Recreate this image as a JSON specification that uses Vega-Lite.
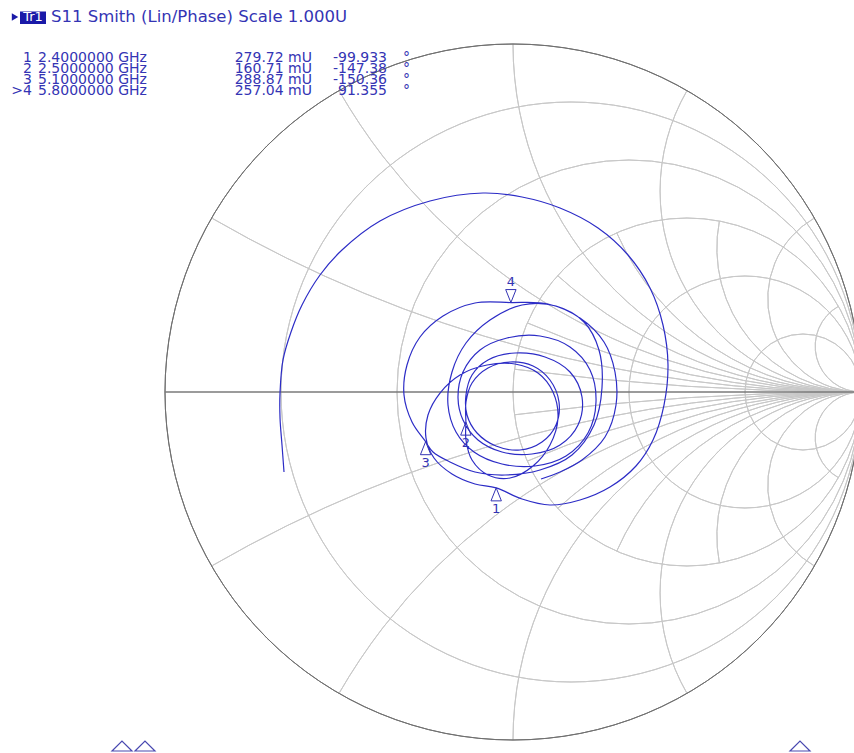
{
  "$schema": "https://vega.github.io/schema/vega-lite/v6.json",
  "width": 689,
  "height": 696,
  "autosize": {"type": "none"},
  "padding": {"left": 165, "top": 44, "right": 0, "bottom": 13},
  "background": "white",
  "config": {
    "view": {"stroke": null},
    "text": {"font": "DejaVu Sans", "fontSize": 14, "color": "#3434b4"}
  },
  "datasets": {
    "rcirc": [
      {"r": 0.2, "cx": 0.166667, "cy": 0, "rad": 0.833333, "a0": 0, "a1": 360},
      {"r": 0.5, "cx": 0.333333, "cy": 0, "rad": 0.666667, "a0": 0, "a1": 360},
      {"r": 1, "cx": 0.5, "cy": 0, "rad": 0.5, "a0": 0, "a1": 360},
      {"r": 2, "cx": 0.666667, "cy": 0, "rad": 0.333333, "a0": 0, "a1": 360},
      {"r": 5, "cx": 0.833333, "cy": 0, "rad": 0.166667, "a0": 0, "a1": 360}
    ],
    "xarc": [
      {"x": 3.732, "cx": 1, "cy": 0.267949, "rad": 0.267949, "a0": 180, "a1": 330},
      {"x": 1.732, "cx": 1, "cy": 0.57735, "rad": 0.57735, "a0": 180, "a1": 300},
      {"x": 1, "cx": 1, "cy": 1, "rad": 1, "a0": 180, "a1": 270},
      {"x": 0.577, "cx": 1, "cy": 1.732051, "rad": 1.732051, "a0": 180, "a1": 240},
      {"x": 0.268, "cx": 1, "cy": 3.732051, "rad": 3.732051, "a0": 180, "a1": 210},
      {"x": -3.732, "cx": 1, "cy": -0.267949, "rad": 0.267949, "a0": 210, "a1": 360},
      {"x": -1.732, "cx": 1, "cy": -0.57735, "rad": 0.57735, "a0": 240, "a1": 360},
      {"x": -1, "cx": 1, "cy": -1, "rad": 1, "a0": 270, "a1": 360},
      {"x": -0.577, "cx": 1, "cy": -1.732051, "rad": 1.732051, "a0": 300, "a1": 360},
      {"x": -0.268, "cx": 1, "cy": -3.732051, "rad": 3.732051, "a0": 330, "a1": 360},
      {"x": 7.596, "cx": 1, "cy": 0.131652, "rad": 0.131652, "a0": 180, "a1": 330.5},
      {"x": 2.414, "cx": 1, "cy": 0.414214, "rad": 0.414214, "a0": 180, "a1": 280.72},
      {"x": 1.303, "cx": 1, "cy": 0.767327, "rad": 0.767327, "a0": 180, "a1": 246.18},
      {"x": 0.767, "cx": 1, "cy": 1.303225, "rad": 1.303225, "a0": 180, "a1": 221.98},
      {"x": 0.414, "cx": 1, "cy": 2.414214, "rad": 2.414214, "a0": 180, "a1": 203.4},
      {"x": 0.132, "cx": 1, "cy": 7.595754, "rad": 7.595754, "a0": 180, "a1": 187.53},
      {"x": -7.596, "cx": 1, "cy": -0.131652, "rad": 0.131652, "a0": 209.5, "a1": 360},
      {"x": -2.414, "cx": 1, "cy": -0.414214, "rad": 0.414214, "a0": 259.28, "a1": 360},
      {"x": -1.303, "cx": 1, "cy": -0.767327, "rad": 0.767327, "a0": 293.82, "a1": 360},
      {"x": -0.767, "cx": 1, "cy": -1.303225, "rad": 1.303225, "a0": 318.02, "a1": 360},
      {"x": -0.414, "cx": 1, "cy": -2.414214, "rad": 2.414214, "a0": 336.6, "a1": 360},
      {"x": -0.132, "cx": 1, "cy": -7.595754, "rad": 7.595754, "a0": 352.47, "a1": 360}
    ],
    "rim": [
      {"r": 0, "cx": 0, "cy": 0, "rad": 1, "a0": 0, "a1": 360}
    ],
    "trace": [
      {"i": 1, "re": -0.6580, "im": -0.2299},
      {"i": 2, "re": -0.6638, "im": -0.1523},
      {"i": 3, "re": -0.6695, "im": -0.0747},
      {"i": 4, "re": -0.6695, "im": -0.0029},
      {"i": 5, "re": -0.6609, "im": 0.0920},
      {"i": 6, "re": -0.6379, "im": 0.1724},
      {"i": 7, "re": -0.6063, "im": 0.2500},
      {"i": 8, "re": -0.5546, "im": 0.3362},
      {"i": 9, "re": -0.4914, "im": 0.4080},
      {"i": 10, "re": -0.3822, "im": 0.4914},
      {"i": 11, "re": -0.2385, "im": 0.5489},
      {"i": 12, "re": -0.0862, "im": 0.5718},
      {"i": 13, "re": 0.0259, "im": 0.5603},
      {"i": 14, "re": 0.1351, "im": 0.5287},
      {"i": 15, "re": 0.2443, "im": 0.4713},
      {"i": 16, "re": 0.3305, "im": 0.3937},
      {"i": 17, "re": 0.3937, "im": 0.2989},
      {"i": 18, "re": 0.4310, "im": 0.1925},
      {"i": 19, "re": 0.4454, "im": 0.0776},
      {"i": 20, "re": 0.4339, "im": -0.0374},
      {"i": 21, "re": 0.4023, "im": -0.1379},
      {"i": 22, "re": 0.3534, "im": -0.2126},
      {"i": 23, "re": 0.2787, "im": -0.2730},
      {"i": 24, "re": 0.1925, "im": -0.3103},
      {"i": 25, "re": 0.1063, "im": -0.3247},
      {"i": 26, "re": 0.0259, "im": -0.3075},
      {"i": 27, "re": -0.0483, "im": -0.2755},
      {"i": 28, "re": -0.1092, "im": -0.2644},
      {"i": 29, "re": -0.1753, "im": -0.2356},
      {"i": 30, "re": -0.2270, "im": -0.1897},
      {"i": 31, "re": -0.2500, "im": -0.1322},
      {"i": 32, "re": -0.2443, "im": -0.0661},
      {"i": 33, "re": -0.2098, "im": -0.0029},
      {"i": 34, "re": -0.1523, "im": 0.0489},
      {"i": 35, "re": -0.0747, "im": 0.0776},
      {"i": 36, "re": 0.0057, "im": 0.0805},
      {"i": 37, "re": 0.0718, "im": 0.0546},
      {"i": 38, "re": 0.1149, "im": 0.0000},
      {"i": 39, "re": 0.1293, "im": -0.0747},
      {"i": 40, "re": 0.1063, "im": -0.1523},
      {"i": 41, "re": 0.0575, "im": -0.2126},
      {"i": 42, "re": -0.0086, "im": -0.2471},
      {"i": 43, "re": -0.0718, "im": -0.2385},
      {"i": 44, "re": -0.1178, "im": -0.1954},
      {"i": 45, "re": -0.1351, "im": -0.1379},
      {"i": 46, "re": -0.1354, "im": -0.0866},
      {"i": 47, "re": -0.1351, "im": -0.0287},
      {"i": 48, "re": -0.1178, "im": 0.0259},
      {"i": 49, "re": -0.0718, "im": 0.0690},
      {"i": 50, "re": -0.0086, "im": 0.0862},
      {"i": 51, "re": 0.0575, "im": 0.0747},
      {"i": 52, "re": 0.1063, "im": 0.0345},
      {"i": 53, "re": 0.1322, "im": -0.0287},
      {"i": 54, "re": 0.1236, "im": -0.0948},
      {"i": 55, "re": 0.0833, "im": -0.1437},
      {"i": 56, "re": 0.0201, "im": -0.1667},
      {"i": 57, "re": -0.0489, "im": -0.1552},
      {"i": 58, "re": -0.1034, "im": -0.1178},
      {"i": 59, "re": -0.1322, "im": -0.0661},
      {"i": 60, "re": -0.1351, "im": -0.0086},
      {"i": 61, "re": -0.1178, "im": 0.0489},
      {"i": 62, "re": -0.0718, "im": 0.0920},
      {"i": 63, "re": 0.0057, "im": 0.1121},
      {"i": 64, "re": 0.0920, "im": 0.1006},
      {"i": 65, "re": 0.1638, "im": 0.0575},
      {"i": 66, "re": 0.1983, "im": -0.0144},
      {"i": 67, "re": 0.1868, "im": -0.0948},
      {"i": 68, "re": 0.1351, "im": -0.1523},
      {"i": 69, "re": 0.0546, "im": -0.1782},
      {"i": 70, "re": -0.0316, "im": -0.1724},
      {"i": 71, "re": -0.1006, "im": -0.1379},
      {"i": 72, "re": -0.1437, "im": -0.0805},
      {"i": 73, "re": -0.1580, "im": -0.0172},
      {"i": 74, "re": -0.1437, "im": 0.0575},
      {"i": 75, "re": -0.0948, "im": 0.1207},
      {"i": 76, "re": -0.0172, "im": 0.1552},
      {"i": 77, "re": 0.0776, "im": 0.1609},
      {"i": 78, "re": 0.1638, "im": 0.1293},
      {"i": 79, "re": 0.2213, "im": 0.0632},
      {"i": 80, "re": 0.2385, "im": -0.0287},
      {"i": 81, "re": 0.2155, "im": -0.1178},
      {"i": 82, "re": 0.1523, "im": -0.1839},
      {"i": 83, "re": 0.0632, "im": -0.2126},
      {"i": 84, "re": -0.0316, "im": -0.2069},
      {"i": 85, "re": -0.1121, "im": -0.1724},
      {"i": 86, "re": -0.1638, "im": -0.1149},
      {"i": 87, "re": -0.1868, "im": -0.0374},
      {"i": 88, "re": -0.1753, "im": 0.0575},
      {"i": 89, "re": -0.1351, "im": 0.1408},
      {"i": 90, "re": -0.0661, "im": 0.2069},
      {"i": 91, "re": 0.0259, "im": 0.2500},
      {"i": 92, "re": 0.1236, "im": 0.2471},
      {"i": 93, "re": 0.2040, "im": 0.2011},
      {"i": 94, "re": 0.2471, "im": 0.1207},
      {"i": 95, "re": 0.2557, "im": 0.0115},
      {"i": 96, "re": 0.2328, "im": -0.0948},
      {"i": 97, "re": 0.1695, "im": -0.1810},
      {"i": 98, "re": 0.0776, "im": -0.2241},
      {"i": 99, "re": -0.0230, "im": -0.2385},
      {"i": 100, "re": -0.1092, "im": -0.2299},
      {"i": 101, "re": -0.1810, "im": -0.2011},
      {"i": 102, "re": -0.2299, "im": -0.1724},
      {"i": 103, "re": -0.2511, "im": -0.1428},
      {"i": 104, "re": -0.2902, "im": -0.0862},
      {"i": 105, "re": -0.3132, "im": -0.0086},
      {"i": 106, "re": -0.3046, "im": 0.0776},
      {"i": 107, "re": -0.2672, "im": 0.1580},
      {"i": 108, "re": -0.2011, "im": 0.2184},
      {"i": 109, "re": -0.1092, "im": 0.2557},
      {"i": 110, "re": -0.0061, "im": 0.2570},
      {"i": 111, "re": 0.1006, "im": 0.2529},
      {"i": 112, "re": 0.1925, "im": 0.2126},
      {"i": 113, "re": 0.2615, "im": 0.1437},
      {"i": 114, "re": 0.2931, "im": 0.0575},
      {"i": 115, "re": 0.2960, "im": -0.0374},
      {"i": 116, "re": 0.2644, "im": -0.1293},
      {"i": 117, "re": 0.1983, "im": -0.1954},
      {"i": 118, "re": 0.1351, "im": -0.2299},
      {"i": 119, "re": 0.0805, "im": -0.2500}
    ],
    "markers": [
      {"n": 1, "label": "1", "freq": "2.4000000 GHz", "mag": "279.72 mU", "phase": "-99.933", "re": -0.0483, "im": -0.2755},
      {"n": 2, "label": "2", "freq": "2.5000000 GHz", "mag": "160.71 mU", "phase": "-147.38", "re": -0.1354, "im": -0.0866},
      {"n": 3, "label": "3", "freq": "5.1000000 GHz", "mag": "288.87 mU", "phase": "-150.36", "re": -0.2511, "im": -0.1428},
      {"n": 4, "label": ">4", "freq": "5.8000000 GHz", "mag": "257.04 mU", "phase": "91.355", "re": -0.0061, "im": 0.2570}
    ],
    "stim": [
      {"pos": -1.1236},
      {"pos": -1.0575},
      {"pos": 0.8247}
    ],
    "header": [
      {"trace": "Tr1", "title": "S11 Smith (Lin/Phase) Scale 1.000U"}
    ]
  },
  "resolve": {"scale": {"y": "independent"}},
  "layer": [
    {
      "layer": [
        {
          "data": {"name": "rcirc"},
          "mark": {"type": "arc", "filled": false, "stroke": "#c8c8c8", "strokeWidth": 1, "clip": true},
          "encoding": {
            "x": {"field": "cx", "type": "quantitative", "scale": {"domain": [-1, 0.97989], "nice": false, "zero": false}, "axis": null},
            "y": {"field": "cy", "type": "quantitative", "scale": {"domain": [-1, 1], "nice": false, "zero": false}, "axis": null},
            "radius": {"field": "rad", "type": "quantitative", "stack": null, "scale": {"type": "linear", "domain": [0, 1], "range": [0, 348], "nice": false, "zero": true}},
            "radius2": {"field": "rad"},
            "theta": {"field": "a0", "type": "quantitative", "stack": null, "scale": {"domain": [0, 360], "range": [0, 6.283185307], "nice": false}},
            "theta2": {"field": "a1"}
          }
        },
        {
          "data": {"name": "xarc"},
          "mark": {"type": "arc", "filled": false, "stroke": "#c8c8c8", "strokeWidth": 1, "clip": true},
          "encoding": {
            "x": {"field": "cx", "type": "quantitative", "axis": null},
            "y": {"field": "cy", "type": "quantitative", "axis": null},
            "radius": {"field": "rad", "type": "quantitative", "stack": null},
            "radius2": {"field": "rad"},
            "theta": {"field": "a0", "type": "quantitative", "stack": null},
            "theta2": {"field": "a1"}
          }
        },
        {
          "data": {"name": "rim"},
          "mark": {"type": "arc", "filled": false, "stroke": "#707070", "strokeWidth": 1},
          "encoding": {
            "x": {"field": "cx", "type": "quantitative", "axis": null},
            "y": {"field": "cy", "type": "quantitative", "axis": null},
            "radius": {"field": "rad", "type": "quantitative", "stack": null},
            "radius2": {"field": "rad"},
            "theta": {"field": "a0", "type": "quantitative", "stack": null},
            "theta2": {"field": "a1"}
          }
        },
        {
          "data": {"name": "rim"},
          "mark": {"type": "rule", "stroke": "#7a7a7a", "strokeWidth": 1.3},
          "encoding": {
            "x": {"datum": -1, "axis": null},
            "x2": {"datum": 1},
            "y": {"datum": 0, "axis": null}
          }
        },
        {
          "data": {"name": "trace"},
          "mark": {"type": "line", "interpolate": "catmull-rom", "stroke": "#2c2cc6", "strokeWidth": 1.2},
          "encoding": {
            "x": {"field": "re", "type": "quantitative", "axis": null},
            "y": {"field": "im", "type": "quantitative", "axis": null},
            "order": {"field": "i", "type": "quantitative"}
          }
        },
        {
          "data": {"name": "markers"},
          "transform": [{"filter": "datum.n != 4"}],
          "mark": {"type": "point", "shape": "M-0.8,1L0,-1L0.8,1Z", "size": 169, "filled": false, "stroke": "#3434b4", "strokeWidth": 1, "opacity": 1, "yOffset": 6.5},
          "encoding": {
            "x": {"field": "re", "type": "quantitative", "axis": null},
            "y": {"field": "im", "type": "quantitative", "axis": null}
          }
        },
        {
          "data": {"name": "markers"},
          "transform": [{"filter": "datum.n == 4"}],
          "mark": {"type": "point", "shape": "M-0.8,-1L0,1L0.8,-1Z", "size": 169, "filled": false, "stroke": "#3434b4", "strokeWidth": 1, "opacity": 1, "yOffset": -6.5},
          "encoding": {
            "x": {"field": "re", "type": "quantitative", "axis": null},
            "y": {"field": "im", "type": "quantitative", "axis": null}
          }
        },
        {
          "data": {"name": "markers"},
          "transform": [{"filter": "datum.n != 4"}],
          "mark": {"type": "text", "dy": 21, "fontSize": 13, "align": "center", "baseline": "middle"},
          "encoding": {
            "x": {"field": "re", "type": "quantitative", "axis": null},
            "y": {"field": "im", "type": "quantitative", "axis": null},
            "text": {"field": "n"}
          }
        },
        {
          "data": {"name": "markers"},
          "transform": [{"filter": "datum.n == 4"}],
          "mark": {"type": "text", "dy": -21, "fontSize": 13, "align": "center", "baseline": "middle"},
          "encoding": {
            "x": {"field": "re", "type": "quantitative", "axis": null},
            "y": {"field": "im", "type": "quantitative", "axis": null},
            "text": {"field": "n"}
          }
        },
        {
          "data": {"name": "stim"},
          "mark": {"type": "point", "shape": "M-1,0.5L0,-0.5L1,0.5Z", "size": 400, "filled": false, "stroke": "#4848b0", "strokeWidth": 1.2, "opacity": 1},
          "encoding": {
            "x": {"field": "pos", "type": "quantitative", "axis": null},
            "y": {"datum": -1.0172, "axis": null}
          }
        },
        {
          "data": {"name": "header"},
          "mark": {"type": "point", "shape": "triangle-right", "size": 55, "filled": true, "color": "#1a1aa8", "opacity": 1},
          "encoding": {
            "x": {"datum": -1.4310, "axis": null},
            "y": {"datum": 1.0776, "axis": null}
          }
        },
        {
          "data": {"name": "header"},
          "mark": {"type": "rect", "color": "#1a1aa8"},
          "encoding": {
            "x": {"datum": -1.4167, "axis": null},
            "x2": {"datum": -1.3420},
            "y": {"datum": 1.0934, "axis": null},
            "y2": {"datum": 1.0575}
          }
        },
        {
          "data": {"name": "header"},
          "mark": {"type": "text", "color": "white", "fontSize": 13, "align": "center", "baseline": "middle"},
          "encoding": {
            "x": {"datum": -1.3793, "axis": null},
            "y": {"datum": 1.0762, "axis": null},
            "text": {"field": "trace"}
          }
        },
        {
          "data": {"name": "header"},
          "mark": {"type": "text", "fontSize": 16.5, "align": "left", "baseline": "middle"},
          "encoding": {
            "x": {"datum": -1.3276, "axis": null},
            "y": {"datum": 1.0762, "axis": null},
            "text": {"field": "title"}
          }
        }
      ]
    },
    {
      "data": {"name": "markers"},
      "layer": [
        {
          "mark": {"type": "text", "align": "right", "baseline": "middle"},
          "encoding": {
            "x": {"datum": -1.3822, "axis": null},
            "y": {"field": "n", "type": "quantitative", "scale": {"domain": [1, 4], "range": [14, 47], "nice": false, "zero": false}, "axis": null},
            "text": {"field": "label"}
          }
        },
        {
          "mark": {"type": "text", "align": "left", "baseline": "middle"},
          "encoding": {
            "x": {"datum": -1.3649, "axis": null},
            "y": {"field": "n", "type": "quantitative", "axis": null},
            "text": {"field": "freq"}
          }
        },
        {
          "mark": {"type": "text", "align": "right", "baseline": "middle"},
          "encoding": {
            "x": {"datum": -0.5776, "axis": null},
            "y": {"field": "n", "type": "quantitative", "axis": null},
            "text": {"field": "mag"}
          }
        },
        {
          "mark": {"type": "text", "align": "right", "baseline": "middle"},
          "encoding": {
            "x": {"datum": -0.3621, "axis": null},
            "y": {"field": "n", "type": "quantitative", "axis": null},
            "text": {"field": "phase"}
          }
        },
        {
          "mark": {"type": "text", "align": "left", "baseline": "middle", "text": "°"},
          "encoding": {
            "x": {"datum": -0.3161, "axis": null},
            "y": {"field": "n", "type": "quantitative", "axis": null}
          }
        }
      ]
    }
  ]
}
